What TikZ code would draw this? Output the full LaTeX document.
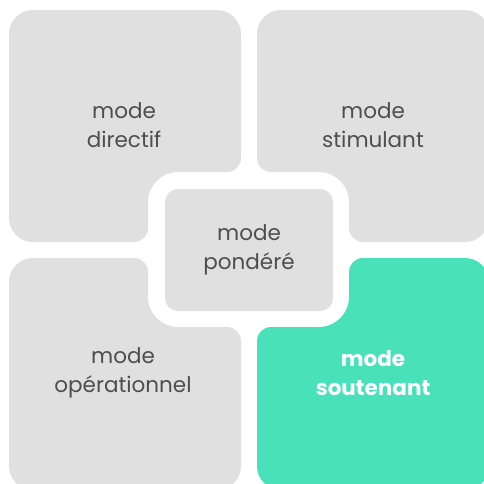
\documentclass[tikz,border=0pt]{standalone}
\usepackage{fontspec}
\setmainfont{Poppins}
\definecolor{quadgray}{HTML}{E0E0E0}
\definecolor{txtgray}{HTML}{4E4E4E}
\definecolor{mint}{HTML}{48E1B9}
\tikzset{
  lbl/.style={align=center, text=txtgray, font=\fontsize{21.5}{29.5}\selectfont},
  lblbold/.style={align=center, text=white, font=\bfseries\fontsize{21.5}{29.5}\selectfont},
}
\begin{document}
\begin{tikzpicture}[x=1pt,y=-1pt]
\useasboundingbox (0,0) rectangle (484,483);
\fill[white] (0,0) rectangle (484,483);
% top-left
\fill[quadgray] [rounded corners=24pt] (9,126) -- (9,10) -- (241,10) [rounded corners=14pt] -- (241,172) [rounded corners=30pt] -- (148,172) [rounded corners=14pt] -- (148,242) [rounded corners=24pt] -- (9,242) -- cycle;
% top-right
\fill[quadgray] [rounded corners=24pt] (489,126) -- (489,10) -- (257,10) [rounded corners=14pt] -- (257,172) [rounded corners=30pt] -- (349,172) [rounded corners=14pt] -- (349,242) [rounded corners=24pt] -- (489,242) -- cycle;
% bottom-left
\fill[quadgray] [rounded corners=24pt] (9,374) -- (9,490) -- (241,490) [rounded corners=14pt] -- (241,327) [rounded corners=30pt] -- (148,327) [rounded corners=14pt] -- (148,258) [rounded corners=24pt] -- (9,258) -- cycle;
% bottom-right
\fill[mint] [rounded corners=24pt] (489,374) -- (489,490) -- (257,490) [rounded corners=14pt] -- (257,327) [rounded corners=30pt] -- (349,327) [rounded corners=14pt] -- (349,258) [rounded corners=24pt] -- (489,258) -- cycle;
% centre
\fill[quadgray, rounded corners=13pt] (165,189) rectangle (333,311);
\node[lbl] (tl) at (124,125) {mode\\directif};
\node[lbl] (tr) at (373,125) {mode\\stimulant};
\node[lbl] (bl) at (123,373) {mode\\opérationnel};
\node[lblbold] (br) at (373,373) {mode\\soutenant};
\node[lbl] (c) at (249,250) {mode\\pondéré};
\end{tikzpicture}
\end{document}
